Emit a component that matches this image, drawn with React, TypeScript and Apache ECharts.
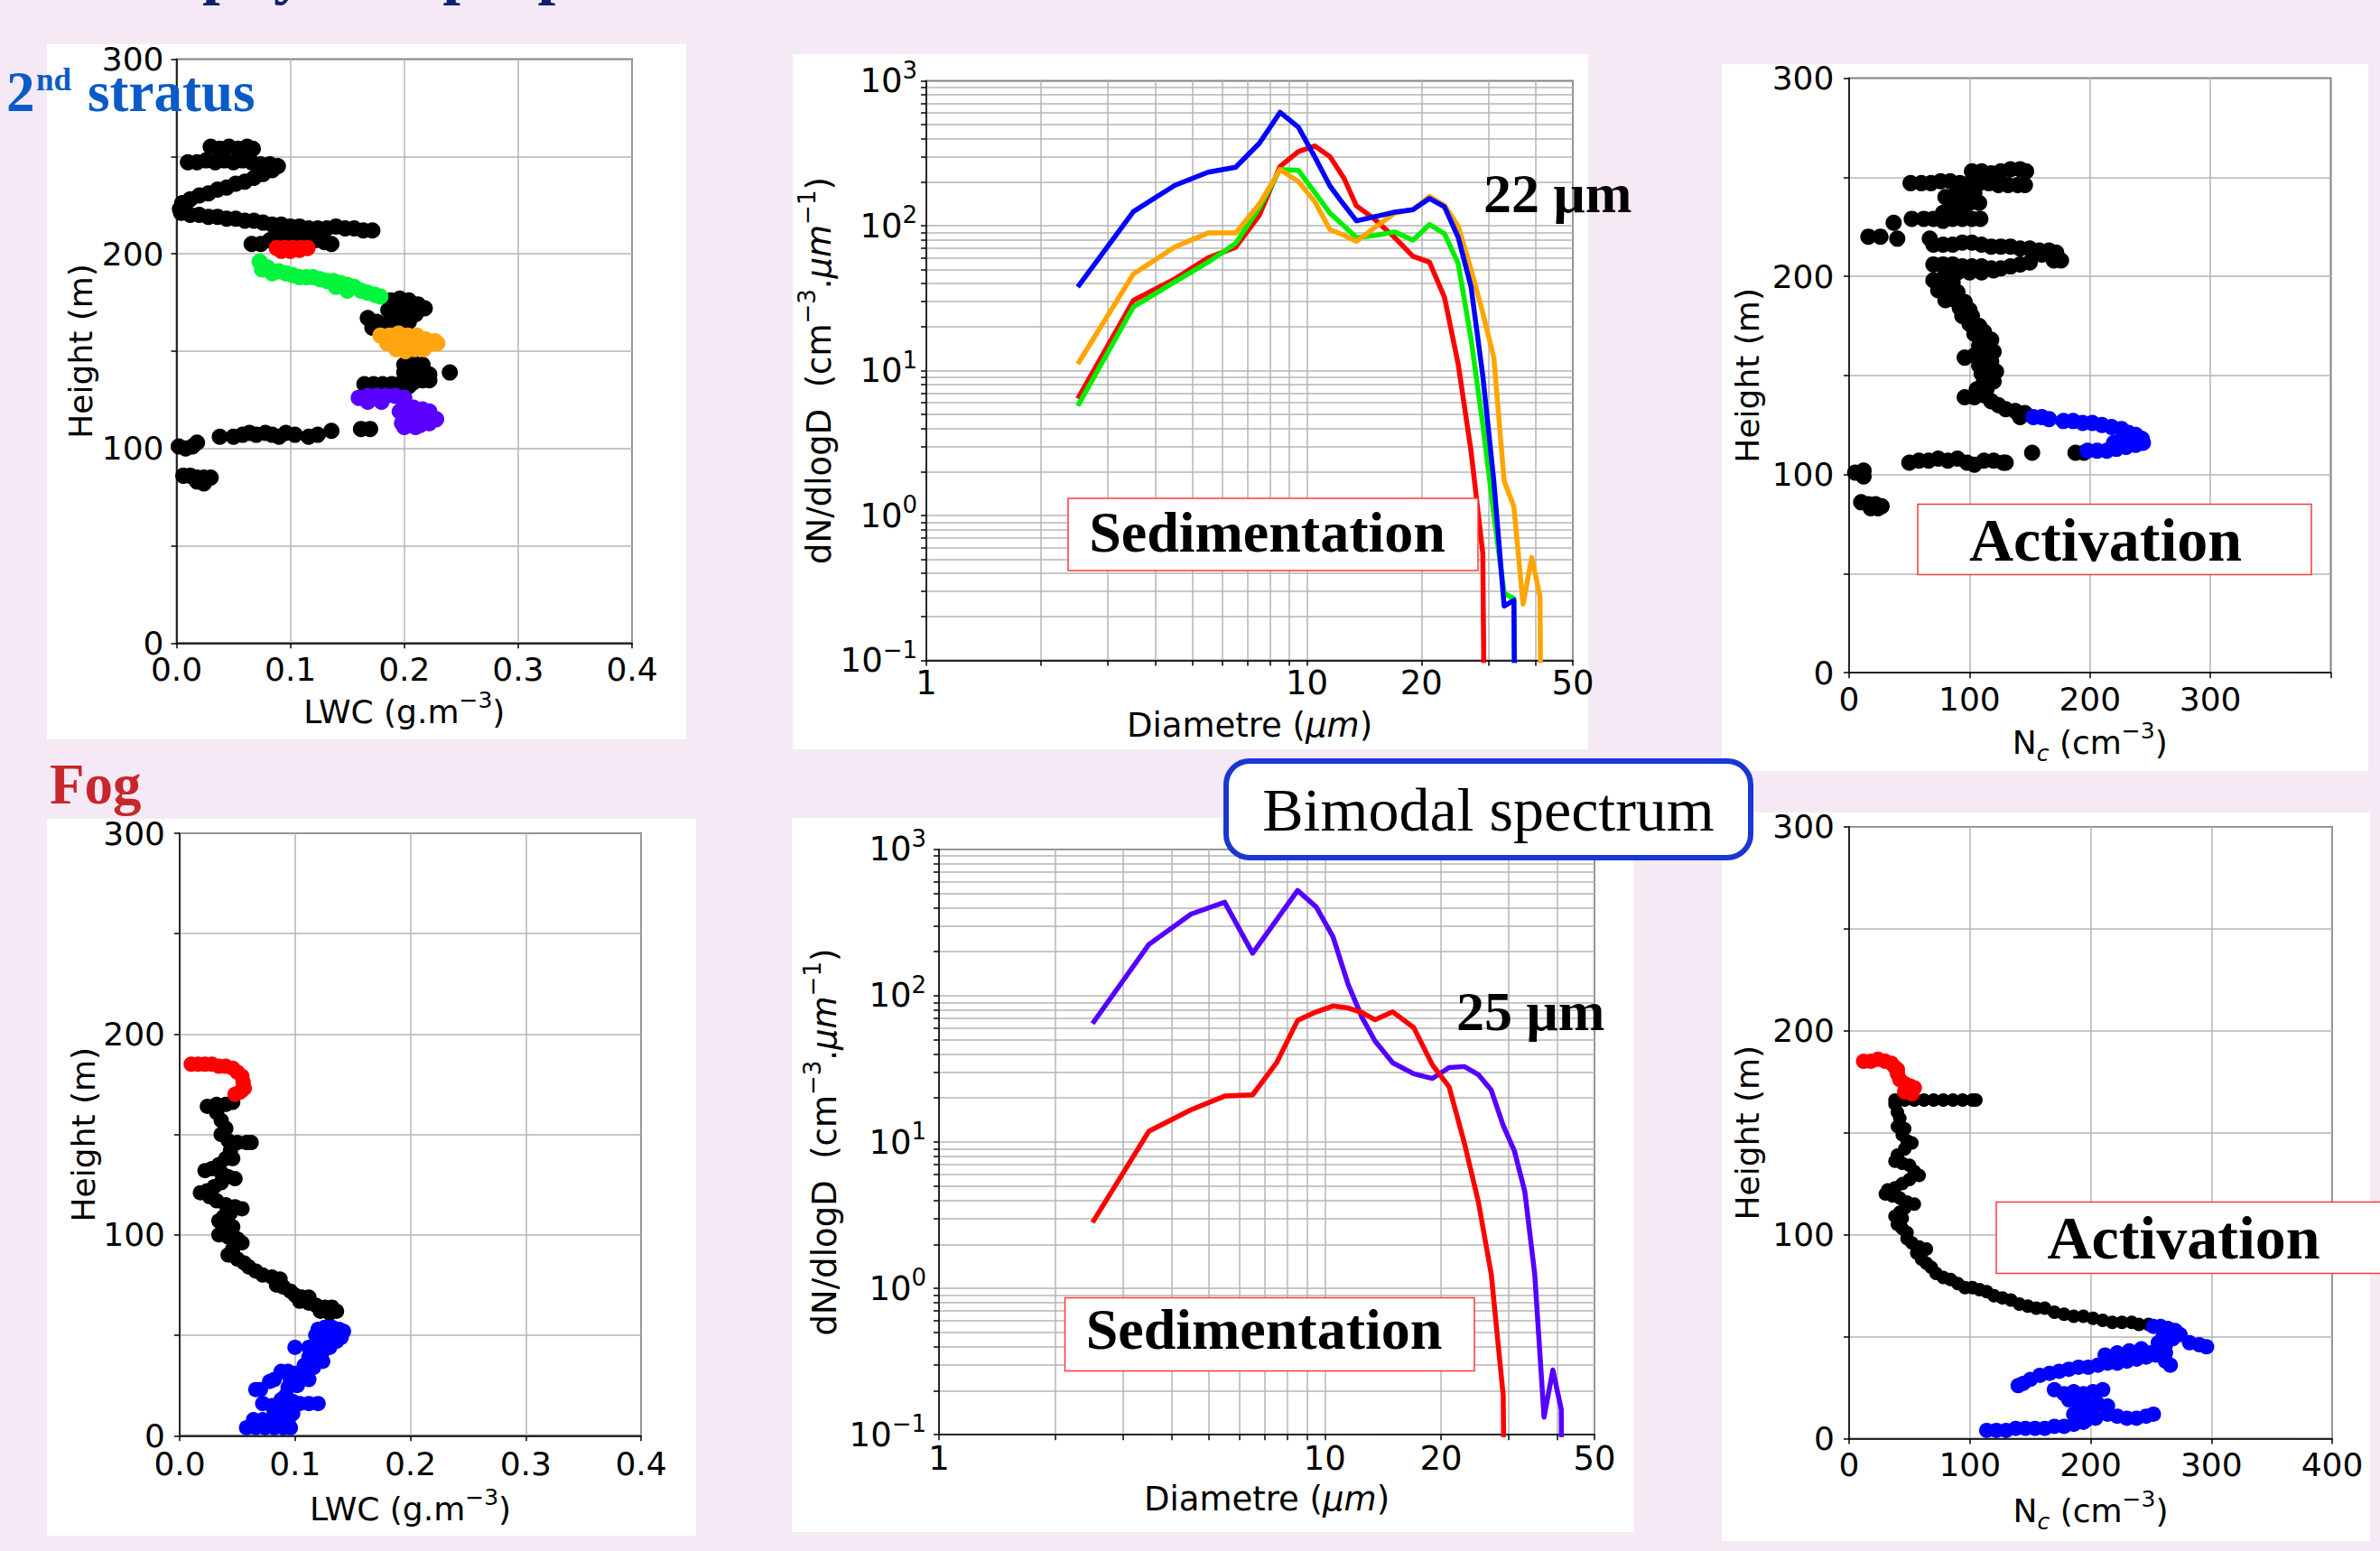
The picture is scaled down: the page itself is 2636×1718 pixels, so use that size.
import React, { useEffect, useRef } from 'react';
import * as echarts from 'echarts';

const FONT = '"DejaVu Sans", sans-serif';
const SERIF = '"Liberation Serif", "Times New Roman", serif';

// ---------- Top-left: LWC vs height (2nd stratus) ----------
const tlBlack = [
  [0.030,255],[0.038,254],[0.046,255],[0.054,254],[0.062,255],[0.067,254],
  [0.010,247],[0.018,247],[0.026,248],[0.034,247],[0.042,248],[0.050,247],[0.058,248],[0.066,247],[0.074,246],[0.082,246],[0.089,245],
  [0.084,243],[0.076,241],[0.068,239],[0.060,237],[0.052,236],[0.044,234],[0.036,233],[0.028,231],[0.020,230],[0.012,228],[0.005,226],[0.003,223],
  [0.004,221],[0.012,220],[0.020,220],[0.028,219],[0.036,219],[0.044,218],[0.052,218],[0.060,217],[0.068,217],[0.076,216],[0.084,215],[0.092,215],[0.100,214],[0.108,214],[0.116,213],[0.124,213],[0.132,213],[0.140,214],[0.148,213],[0.156,213],[0.164,212],[0.172,212],
  [0.066,205],[0.074,205],[0.082,207],[0.090,209],[0.098,210],[0.106,210],[0.114,208],[0.122,207],[0.130,206],[0.136,205],[0.120,211],[0.128,210],
  [0.188,176],[0.196,177],[0.204,176],[0.212,174],[0.218,172],[0.186,171],[0.194,171],[0.202,170],[0.210,169],[0.188,166],[0.196,166],[0.204,165],[0.168,167],[0.176,165],[0.172,162],[0.180,163],
  [0.200,143],[0.208,144],[0.216,143],[0.200,139],[0.208,139],[0.216,139],[0.222,138],[0.240,139],[0.200,135],[0.208,134],[0.216,135],[0.222,135],[0.204,132],[0.165,133],[0.173,133],[0.181,133],[0.189,133],[0.196,133],
  [0.038,106],[0.050,106],[0.058,107],[0.064,108],[0.070,107],[0.078,108],[0.084,107],[0.090,106],[0.096,108],[0.104,107],[0.116,106],[0.124,107],[0.136,109],[0.162,110],[0.170,110],
  [0.002,101],[0.008,100],[0.014,101],[0.018,103],
  [0.006,86],[0.012,86],[0.018,85],[0.024,85],[0.030,85],[0.018,83],[0.024,82]
];
const tlRed = [[0.088,203],[0.095,203],[0.102,203],[0.109,203],[0.115,203],[0.092,201.5],[0.100,201.5],[0.108,202]];
const tlGreen = [
  [0.073,196],[0.075,192],[0.080,193],[0.084,190],[0.090,191],[0.096,190],[0.102,189],[0.108,188],[0.114,188],[0.120,188],[0.126,187],
  [0.132,186],[0.138,186],[0.144,185],[0.150,184],[0.156,183],[0.162,181],[0.168,180],[0.174,179],[0.179,178],[0.140,183],[0.150,181]
];
const tlOrange = [
  [0.179,158],[0.187,158],[0.195,159],[0.203,158],[0.211,158],[0.219,156],[0.227,155],[0.229,154],[0.185,154],[0.193,154],
  [0.201,155],[0.209,154],[0.217,154],[0.225,154],[0.193,151],[0.201,150],[0.209,151],[0.217,151]
];
const tlPurple = [
  [0.160,126],[0.168,127],[0.176,127],[0.184,127],[0.192,127],[0.200,126],[0.168,124],[0.180,124],[0.200,122],[0.208,121],[0.216,120],[0.222,119],
  [0.196,119],[0.204,117],[0.212,117],[0.220,116],[0.228,115],[0.198,113],[0.206,112],[0.214,112],[0.222,113],[0.200,111],[0.210,111]
];

// ---------- Top-right: Nc vs height (2nd stratus) ----------
const trBlack = [
  [102,253],[110,253],[118,252],[126,253],[134,254],[142,254],[147,253],
  [51,247],[60,247],[68,247],[76,248],[84,248],[92,247],[100,247],[108,247],[116,247],[124,246],[132,246],[140,246],[146,246],
  [80,240],[88,241],[96,242],[104,242],[84,236],[92,236],[100,237],[108,237],[78,232],[86,232],[94,233],
  [37,227],[52,229],[62,229],[70,229],[78,228],[86,229],[94,229],[102,229],[109,229],
  [16,220],[26,220],[40,219],[67,219],
  [70,216],[78,216],[86,216],[94,217],[102,217],[110,216],[118,215],[126,215],[134,215],[142,214],[150,214],[158,213],[166,213],[172,212],[160,211],[168,210],[176,208],[170,208],
  [70,206],[78,206],[86,206],[94,205],[102,205],[110,205],[118,204],[126,204],[134,205],[142,206],[150,207],[80,202],[90,202],[100,202],[110,202],[120,203],
  [70,198],[78,198],[86,197],[74,193],[82,193],[90,192],[80,188],[88,188],[96,187],[92,184],[100,183],
  [94,180],[102,180],[100,176],[108,175],[112,172],[104,171],[112,168],[118,168],[108,165],[116,164],[120,162],[96,159],[104,160],[112,159],[118,157],[108,155],[116,154],[122,152],[110,151],[118,149],
  [112,147],[120,147],[106,143],[114,143],[96,139],[104,139],[112,140],[118,137],[124,135],[130,133],[138,132],[146,131],[142,129],
  [152,111],[188,111],[195,111],
  [50,106],[58,107],[66,107],[74,108],[82,107],[90,108],[98,106],[104,105],[112,107],[120,107],[128,106],[130,106],
  [5,101],[12,102],[12,99],
  [10,86],[16,85],[22,85],[27,84],[18,83],[24,83]
];
const trBlue = [
  [153,129],[160,129],[166,128],[178,127],[186,127],[194,126],[202,126],[210,125],[218,124],[226,123],[232,121],[238,120],[243,118],[244,116],
  [238,115],[230,114],[222,113],[214,112],[206,112],[198,112],[220,116],[228,117],[234,119]
];

// ---------- Bottom-left: LWC vs height (fog) ----------
const blRed = [
  [0.010,185],[0.016,185],[0.022,185],[0.028,185],[0.034,184],[0.040,184],[0.046,183],[0.050,181],[0.054,179],[0.055,176],[0.056,173],[0.052,171],[0.048,170],[0.054,172]
];
const blBlack = [
  [0.024,164],[0.032,165],[0.040,165],[0.046,166],[0.032,161],[0.036,157],[0.040,153],[0.036,150],[0.042,147],[0.050,146],[0.058,146],[0.062,146],
  [0.044,142],[0.040,138],[0.046,138],[0.034,135],[0.028,133],[0.022,132],[0.036,131],[0.042,129],[0.048,128],[0.036,126],[0.030,124],[0.024,122],
  [0.018,121],[0.026,119],[0.032,117],[0.040,115],[0.048,114],[0.054,113],[0.044,111],[0.038,109],[0.034,107],[0.042,106],[0.046,104],[0.038,102],
  [0.034,100],[0.042,99],[0.050,98],[0.054,96],[0.046,93],[0.042,90],[0.050,88],[0.056,86],[0.060,84],[0.066,82],[0.072,80],[0.080,79],[0.087,78],
  [0.084,75],[0.090,74],[0.096,72],[0.100,70],[0.106,69],[0.112,69],[0.104,67],[0.112,66],[0.118,65],[0.126,64],[0.132,64],[0.122,62],[0.130,61],[0.136,62]
];
const blBlue = [
  [0.120,53],[0.126,54],[0.132,54],[0.138,53],[0.142,52],[0.118,50],[0.124,49],[0.130,48],[0.136,47],[0.140,49],[0.100,44],[0.112,44],[0.118,43],
  [0.124,42],[0.130,44],[0.112,39],[0.118,38],[0.124,37],[0.108,35],[0.116,34],[0.088,32],[0.094,32],[0.100,31],[0.110,30],[0.082,28],[0.078,27],
  [0.096,28],[0.112,28],[0.070,23],[0.066,23],[0.094,24],[0.102,25],[0.092,20],[0.088,18],[0.072,16],[0.080,15],[0.098,17],[0.104,16],[0.112,16],
  [0.120,16],[0.082,12],[0.090,12],[0.098,11],[0.064,8],[0.072,8],[0.080,8],[0.088,9],[0.094,8],[0.058,4],[0.066,4],[0.074,4],[0.082,4],[0.090,4],[0.096,4]
];

// ---------- Bottom-right: Nc vs height (fog) ----------
const brRed = [
  [12,185],[18,185],[24,186],[30,185],[35,184],[38,182],[40,179],[42,176],[46,174],[50,173],[54,172],[52,169],[46,170],[40,181]
];
const brBlack = [
  [38,166],[46,166],[54,166],[62,166],[70,166],[78,166],[86,166],[94,166],[102,166],[105,166],
  [38,164],[40,160],[42,157],[40,153],[46,152],[44,149],[48,146],[52,145],[46,142],[40,139],[38,136],[44,135],[50,134],[54,131],[58,129],[50,127],
  [44,125],[38,123],[32,122],[30,120],[36,119],[42,118],[48,116],[54,115],[46,113],[42,111],[38,109],[44,108],[40,105],[44,103],[48,101],
  [48,98],[52,96],[58,94],[64,93],[56,91],[60,88],[64,86],[68,84],[72,81],[78,79],[84,78],[90,76],[96,74],[102,74],[108,73],[114,72],[120,70],
  [127,69],[134,68],[141,66],[148,65],[155,64],[162,64],[170,62],[178,61],[186,60],[194,60],[202,59],[210,58],[218,57],[226,57],[234,57],[240,56],[248,56]
];
const brBlue = [
  [252,55],[258,55],[264,54],[270,53],[274,51],[268,49],[260,50],[262,46],[282,47],[290,46],[296,45],[256,47],
  [262,42],[254,41],[246,40],[238,39],[230,38],[222,37],[214,37],[206,36],[198,35],[190,35],[182,34],[174,33],[166,32],[158,31],[150,29],[144,27],[140,26],
  [212,41],[222,42],[232,43],[242,44],[250,42],[262,38],[266,36],
  [170,24],[178,22],[186,23],[194,22],[202,23],[210,24],[182,19],[190,18],[198,16],[206,17],[214,16],[194,13],[202,12],[186,12],[196,9],[204,10],
  [214,12],[222,11],[230,10],[238,10],[246,11],[252,12],
  [114,4],[122,4],[130,4],[138,5],[146,5],[154,5],[162,5],[170,6],[178,6],[186,7],[194,8]
];

// ---------- Droplet spectra ----------
const diamBins = [2.5,3.5,4.5,5.5,6.5,7.5,8.5,9.5,10.5,11.5,12.5,13.5,15,17,19,21,23,25,27,29,31,33,35,37,39,41,43];
const topRed    = [6.4,30.5,43,60,71,118,256,325,355,300,214,137,112,83,61.5,56,32,11,2.8,0.545,1e-9,null,null,null,null,null,null];
const topGreen  = [5.7,27.5,41,56,75.7,133,244,241,169,122,100,82.8,85.3,90.6,79.4,102,88,54.6,16.6,4.24,1.02,0.29,0.267,1e-9,null,null,null];
const topOrange = [11.1,46.4,71.4,89,89,141,244,202,146,94,86,78,96,122,129,159,138,99,50,25,12.3,1.73,1.15,0.244,0.513,0.275,1e-9];
const topBlue   = [37.8,125,190,234,253,370,606,478,297,188,140,108,115,124,129,154,135,82.7,38,9.2,1.73,0.237,0.26,1e-9,null,null,null];
const botPurple = [64.5,224,361,435,195,330,523,404,253,119,70.7,48.9,34.8,29.3,27.2,32.3,32.8,28.9,22.6,13.0,8.7,4.56,1.25,0.132,0.277,0.149,1e-9];
const botRed    = [2.82,11.85,16.6,20.6,21.0,34.8,67.7,77.5,85,82.4,76.6,68.5,77.5,60.5,33.7,23.8,9.85,3.91,1.25,0.185,1e-9,null,null,null,null,null,null];

// ---------- ticks ----------
const heightTicks = [0, 100, 200, 300];
const diamTickValues = [1,2,3,4,5,6,7,8,9,10,20,30,40,50];
const diamLabelValues = [1,10,20,50];
const dndTickValues = [0.1,0.2,0.3,0.4,0.5,0.6,0.7,0.8,0.9,1,2,3,4,5,6,7,8,9,10,20,30,40,50,60,70,80,90,100,200,300,400,500,600,700,800,900,1000];
const dndLabelValues = [0.1,1,10,100,1000];

const GRID_LINE = { color: '#b4b4b4', width: 1.5 };

function rich(F: number) {
  const L = Math.round(F * 1.25);
  const S = Math.round(F * 0.7);
  return {
    n: { fontSize: F, fontFamily: FONT, color: '#000', lineHeight: L },
    i: { fontSize: F, fontFamily: FONT, color: '#000', fontStyle: 'italic', lineHeight: L },
    s: { fontSize: S, fontFamily: FONT, color: '#000', lineHeight: L, padding: [0, 0, 26, 0] },
    c: { fontSize: S, fontFamily: FONT, color: '#000', fontStyle: 'italic', lineHeight: L, padding: [24, 0, 0, 0] },
    b: { fontSize: F, fontFamily: FONT, color: '#000', lineHeight: L },
    e: { fontSize: S, fontFamily: FONT, color: '#000', lineHeight: L, padding: [0, 0, 24, 0] },
  };
}

function common(F: number, gap: number, margin: number) {
  return {
    axisLine: { show: true, onZero: false, lineStyle: { color: '#000', width: 1.5 } },
    axisTick: { show: true, inside: false, length: 6, lineStyle: { color: '#000', width: 1.5 } },
    splitLine: { show: true, lineStyle: GRID_LINE },
    nameLocation: 'middle',
    nameGap: gap,
    nameMoveOverlap: false,
    nameTextStyle: { fontSize: F, fontFamily: FONT, color: '#000', lineHeight: Math.round(F * 1.25), rich: rich(F) },
    axisLabel: { fontSize: F, fontFamily: FONT, color: '#000', margin, lineHeight: F, rich: rich(F) },
  };
}

function heightAxis(gridIndex: number, F: number, gap: number, margin: number) {
  const c: any = common(F, gap, margin);
  return {
    ...c, type: 'value', gridIndex, min: 0, max: 300, interval: 50, name: 'Height (m)',
    axisLabel: { ...c.axisLabel, formatter: (v: number) => (heightTicks.indexOf(v) >= 0 ? String(v) : '') },
  };
}
function lwcAxis(gridIndex: number, F: number, gap: number, margin: number) {
  const c: any = common(F, gap, margin);
  return {
    ...c, type: 'value', gridIndex, min: 0, max: 0.4, interval: 0.1, name: '{n|LWC (g.m}{s|−3}{n|)}',
    axisLabel: { ...c.axisLabel, formatter: (v: number) => v.toFixed(1) },
  };
}
function ncAxis(gridIndex: number, F: number, gap: number, margin: number, hideMax: boolean) {
  const c: any = common(F, gap, margin);
  return {
    ...c, type: 'value', gridIndex, min: 0, max: 400, interval: 100, name: '{n|N}{c|c}{n| (cm}{s|−3}{n|)}',
    axisLabel: { ...c.axisLabel, formatter: (v: number) => (hideMax && v === 400 ? '' : String(v)) },
  };
}
function diamAxis(gridIndex: number, F: number, gap: number, margin: number) {
  const c: any = common(F, gap, margin);
  return {
    ...c, type: 'log', logBase: 10, gridIndex, min: 1, max: 50, name: '{n|Diametre (}{i|μm}{n|)}',
    axisTick: { ...c.axisTick, customValues: diamTickValues },
    axisLabel: { ...c.axisLabel, customValues: diamLabelValues, formatter: (v: number) => String(Math.round(v)) },
  };
}
function dndAxis(gridIndex: number, F: number, gap: number, margin: number) {
  const c: any = common(F, gap, margin);
  return {
    ...c, type: 'log', logBase: 10, gridIndex, min: 0.1, max: 1000, name: '{n|dN/dlogD  (cm}{s|−3}{n|.}{i|μm}{s|−1}{n|)}',
    axisTick: { ...c.axisTick, customValues: dndTickValues },
    axisLabel: {
      ...c.axisLabel, customValues: dndLabelValues,
      formatter: (v: number) => {
        const e = Math.round(Math.log10(v));
        return '{b|10}{e|' + (e < 0 ? '−' + -e : String(e)) + '}';
      },
    },
  };
}

function scatter(idx: number, data: number[][], color: string, size: number) {
  return { type: 'scatter', xAxisIndex: idx, yAxisIndex: idx, data, symbolSize: size, itemStyle: { color, opacity: 1 }, silent: true };
}
function line(idx: number, vals: (number | null)[], color: string) {
  const data = diamBins.map((d, i) => [d, vals[i]]).filter((p) => p[1] !== null);
  return {
    type: 'line', xAxisIndex: idx, yAxisIndex: idx, data, showSymbol: false, symbol: 'none', clip: true, silent: true,
    lineStyle: { color, width: 5.5, join: 'round', cap: 'butt' }, itemStyle: { color },
  };
}

function txt(text: string, x: number, y: number, font: string, fill: string, align: string) {
  return {
    type: 'text', z: 101, silent: true, x, y,
    style: { text, font, fill, textAlign: align, align, textVerticalAlign: 'middle', verticalAlign: 'middle' },
  };
}
function panel(x: number, y: number, w: number, h: number) {
  return { type: 'rect', z: -10, silent: true, shape: { x, y, width: w, height: h }, style: { fill: '#ffffff' } };
}
function redBox(x: number, y: number, w: number, h: number) {
  return { type: 'rect', z: 100, silent: true, shape: { x, y, width: w, height: h }, style: { fill: '#ffffff', stroke: '#ff3a3a', lineWidth: 1.5 } };
}

const gridBase = { show: true, borderColor: '#000', borderWidth: 1.5, containLabel: false, outerBoundsMode: 'none', backgroundColor: 'transparent' };

export default function App() {
  const ref = useRef<HTMLDivElement>(null);
  useEffect(() => {
    if (!ref.current) return;
    const chart = echarts.init(ref.current, null, { renderer: 'svg' });
    const F1 = 36;
    const F2 = 37;
    const option: any = {
      animation: false,
      backgroundColor: '#f4e9f4',
      textStyle: { fontFamily: FONT },
      grid: [
        { ...gridBase, left: 195.5, top: 65.5, width: 504.5, height: 646.8 },
        { ...gridBase, left: 1026, top: 89.5, width: 716, height: 642 },
        { ...gridBase, left: 2048, top: 86.5, width: 533.5, height: 658.7 },
        { ...gridBase, left: 199, top: 923, width: 511, height: 667.3 },
        { ...gridBase, left: 1040, top: 940.8, width: 726, height: 648.4 },
        { ...gridBase, left: 2048, top: 915.8, width: 535, height: 677.7 },
      ],
      xAxis: [
        lwcAxis(0, F1, 54, 11),
        diamAxis(1, F2, 48.5, 6),
        ncAxis(2, F1, 55, 11, true),
        lwcAxis(3, F1, 58.7, 12.7),
        diamAxis(4, F2, 48, 8),
        ncAxis(5, F1, 57.7, 11.4, false),
      ],
      yAxis: [
        heightAxis(0, F1, 83.5, 14),
        dndAxis(1, F2, 96, 10),
        heightAxis(2, F1, 90.5, 16.6),
        heightAxis(3, F1, 84.5, 16),
        dndAxis(4, F2, 104, 14),
        heightAxis(5, F1, 90.5, 16),
      ],
      series: [
        scatter(0, tlBlack, '#000000', 18),
        scatter(0, tlRed, '#ff0000', 18),
        scatter(0, tlGreen, '#00f53c', 18),
        scatter(0, tlOrange, '#ffa510', 18),
        scatter(0, tlPurple, '#5a00ff', 18),
        line(1, topRed, '#ff0000'),
        line(1, topGreen, '#00ee00'),
        line(1, topOrange, '#ffa500'),
        line(1, topBlue, '#0000ff'),
        scatter(2, trBlack, '#000000', 18),
        scatter(2, trBlue, '#0000ff', 18),
        scatter(3, blBlack, '#000000', 17),
        scatter(3, blRed, '#ff0000', 17),
        scatter(3, blBlue, '#0000ff', 17),
        line(4, botPurple, '#5500ff'),
        line(4, botRed, '#ff0000'),
        scatter(5, brBlack, '#000000', 15),
        scatter(5, brRed, '#ff0000', 17),
        scatter(5, brBlue, '#0000ff', 17),
      ],
      graphic: { elements: [
        panel(52, 49, 708, 770),
        panel(878, 60, 881, 770),
        panel(1907, 71, 716, 783),
        panel(52, 907, 719, 794),
        panel(877, 906, 933, 791),
        panel(1907, 900, 718, 807),
        redBox(1183, 552, 454, 80),
        txt('Sedimentation', 1403.5, 589, 'bold 64px ' + SERIF, '#000', 'center'),
        redBox(1179.5, 1437.5, 453.5, 81),
        txt('Sedimentation', 1400, 1472, 'bold 64px ' + SERIF, '#000', 'center'),
        redBox(2124, 558.5, 436, 78),
        txt('Activation', 2332, 598, 'bold 68px ' + SERIF, '#000', 'center'),
        redBox(2211, 1331.5, 440, 79),
        txt('Activation', 2418.5, 1371, 'bold 68px ' + SERIF, '#000', 'center'),
        txt('22 μm', 1643, 214, 'bold 62px ' + SERIF, '#000', 'left'),
        txt('25 μm', 1613, 1120, 'bold 62px ' + SERIF, '#000', 'left'),
        { type: 'rect', z: 100, silent: true, shape: { x: 1358, y: 843, width: 581, height: 107, r: 26 }, style: { fill: '#ffffff', stroke: '#1a36d4', lineWidth: 6 } },
        txt('Bimodal spectrum', 1648.5, 897, '68px ' + SERIF, '#000', 'center'),
        txt('Fog', 55, 869, 'bold 63px ' + SERIF, '#c8262b', 'left'),
        txt('2', 7, 101.7, 'bold 63px ' + SERIF, '#0a5ac8', 'left'),
        txt('nd', 40, 88, 'bold 35px ' + SERIF, '#0a5ac8', 'left'),
        txt('stratus', 97, 101.7, 'bold 63px ' + SERIF, '#0a5ac8', 'left'),
        txt('Microphysical properties', 40, -33.3, 'bold 71px ' + SERIF, '#102070', 'left'),
      ] },
    };
    chart.setOption(option);
    return () => chart.dispose();
  }, []);
  return <div ref={ref} style={{ position: 'fixed', left: 0, top: 0, width: '2636px', height: '1718px' }} />;
}
